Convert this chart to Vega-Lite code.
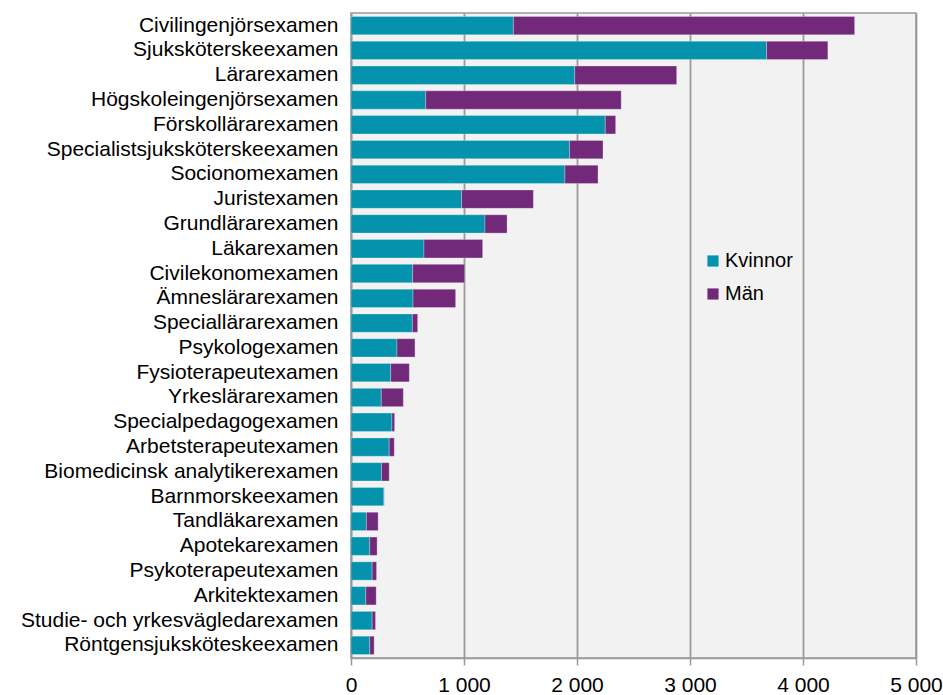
{
  "$schema": "https://vega.github.io/schema/vega-lite/v6.json",
  "autosize": {"type": "none"},
  "width": 565,
  "height": 645,
  "padding": {"left": 351, "top": 13, "right": 27, "bottom": 37},
  "background": "white",
  "config": {
    "font": "Liberation Sans",
    "view": {"fill": "#f2f2f2", "stroke": "#9a9a9a", "strokeWidth": 1.5}
  },
  "data": {
    "values": [
      {"examen": "Civilingenjörsexamen", "kon": "Kvinnor", "antal": 1437},
      {"examen": "Civilingenjörsexamen", "kon": "Män", "antal": 3020},
      {"examen": "Sjuksköterskeexamen", "kon": "Kvinnor", "antal": 3678},
      {"examen": "Sjuksköterskeexamen", "kon": "Män", "antal": 542},
      {"examen": "Lärarexamen", "kon": "Kvinnor", "antal": 1980},
      {"examen": "Lärarexamen", "kon": "Män", "antal": 902},
      {"examen": "Högskoleingenjörsexamen", "kon": "Kvinnor", "antal": 661},
      {"examen": "Högskoleingenjörsexamen", "kon": "Män", "antal": 1730},
      {"examen": "Förskollärarexamen", "kon": "Kvinnor", "antal": 2250},
      {"examen": "Förskollärarexamen", "kon": "Män", "antal": 92},
      {"examen": "Specialistsjuksköterskeexamen", "kon": "Kvinnor", "antal": 1934},
      {"examen": "Specialistsjuksköterskeexamen", "kon": "Män", "antal": 296},
      {"examen": "Socionomexamen", "kon": "Kvinnor", "antal": 1893},
      {"examen": "Socionomexamen", "kon": "Män", "antal": 293},
      {"examen": "Juristexamen", "kon": "Kvinnor", "antal": 979},
      {"examen": "Juristexamen", "kon": "Män", "antal": 635},
      {"examen": "Grundlärarexamen", "kon": "Kvinnor", "antal": 1186},
      {"examen": "Grundlärarexamen", "kon": "Män", "antal": 195},
      {"examen": "Läkarexamen", "kon": "Kvinnor", "antal": 646},
      {"examen": "Läkarexamen", "kon": "Män", "antal": 519},
      {"examen": "Civilekonomexamen", "kon": "Kvinnor", "antal": 546},
      {"examen": "Civilekonomexamen", "kon": "Män", "antal": 460},
      {"examen": "Ämneslärarexamen", "kon": "Kvinnor", "antal": 549},
      {"examen": "Ämneslärarexamen", "kon": "Män", "antal": 377},
      {"examen": "Speciallärarexamen", "kon": "Kvinnor", "antal": 543},
      {"examen": "Speciallärarexamen", "kon": "Män", "antal": 47},
      {"examen": "Psykologexamen", "kon": "Kvinnor", "antal": 407},
      {"examen": "Psykologexamen", "kon": "Män", "antal": 159},
      {"examen": "Fysioterapeutexamen", "kon": "Kvinnor", "antal": 351},
      {"examen": "Fysioterapeutexamen", "kon": "Män", "antal": 165},
      {"examen": "Yrkeslärarexamen", "kon": "Kvinnor", "antal": 268},
      {"examen": "Yrkeslärarexamen", "kon": "Män", "antal": 195},
      {"examen": "Specialpedagogexamen", "kon": "Kvinnor", "antal": 362},
      {"examen": "Specialpedagogexamen", "kon": "Män", "antal": 24},
      {"examen": "Arbetsterapeutexamen", "kon": "Kvinnor", "antal": 338},
      {"examen": "Arbetsterapeutexamen", "kon": "Män", "antal": 45},
      {"examen": "Biomedicinsk analytikerexamen", "kon": "Kvinnor", "antal": 270},
      {"examen": "Biomedicinsk analytikerexamen", "kon": "Män", "antal": 68},
      {"examen": "Barnmorskeexamen", "kon": "Kvinnor", "antal": 291},
      {"examen": "Barnmorskeexamen", "kon": "Män", "antal": 3},
      {"examen": "Tandläkarexamen", "kon": "Kvinnor", "antal": 136},
      {"examen": "Tandläkarexamen", "kon": "Män", "antal": 104},
      {"examen": "Apotekarexamen", "kon": "Kvinnor", "antal": 166},
      {"examen": "Apotekarexamen", "kon": "Män", "antal": 65},
      {"examen": "Psykoterapeutexamen", "kon": "Kvinnor", "antal": 187},
      {"examen": "Psykoterapeutexamen", "kon": "Män", "antal": 39},
      {"examen": "Arkitektexamen", "kon": "Kvinnor", "antal": 131},
      {"examen": "Arkitektexamen", "kon": "Män", "antal": 92},
      {"examen": "Studie- och yrkesvägledarexamen", "kon": "Kvinnor", "antal": 187},
      {"examen": "Studie- och yrkesvägledarexamen", "kon": "Män", "antal": 30},
      {"examen": "Röntgensjuksköteskeexamen", "kon": "Kvinnor", "antal": 166},
      {"examen": "Röntgensjuksköteskeexamen", "kon": "Män", "antal": 39}
    ]
  },
  "mark": {"type": "bar", "stroke": "#ffffff", "strokeOpacity": 0.35, "strokeWidth": 0.8},
  "encoding": {
    "y": {
      "field": "examen",
      "type": "nominal",
      "sort": null,
      "title": null,
      "scale": {"paddingInner": 0.26, "paddingOuter": 0.14},
      "axis": {
        "ticks": false,
        "domain": true,
        "domainColor": "#9a9a9a",
        "domainWidth": 1.5,
        "labelFontSize": 21,
        "labelColor": "#000000",
        "labelPadding": 13,
        "labelLimit": 400
      }
    },
    "x": {
      "field": "antal",
      "type": "quantitative",
      "stack": "zero",
      "title": null,
      "scale": {"domain": [0, 5000], "nice": false},
      "axis": {
        "values": [0, 1000, 2000, 3000, 4000, 5000],
        "labelExpr": "datum.value >= 1000 ? floor(datum.value / 1000) + ' 000' : '0'",
        "grid": true,
        "gridColor": "#9a9a9a",
        "gridWidth": 1.8,
        "domainColor": "#9a9a9a",
        "domainWidth": 1.5,
        "tickColor": "#9a9a9a",
        "tickWidth": 1.5,
        "tickSize": 7,
        "labelFontSize": 21,
        "labelColor": "#000000",
        "labelPadding": 9,
        "labelFlush": false
      }
    },
    "color": {
      "field": "kon",
      "type": "nominal",
      "scale": {"domain": ["Kvinnor", "Män"], "range": ["#0492ad", "#72297a"]},
      "legend": {
        "title": null,
        "orient": "none",
        "legendX": 352,
        "legendY": 238,
        "symbolType": "square",
        "symbolSize": 125,
        "symbolStrokeWidth": 0,
        "labelFontSize": 20,
        "labelColor": "#000000",
        "labelOffset": 2,
        "rowPadding": 13
      }
    },
    "order": {"field": "kon", "type": "nominal", "sort": "ascending"}
  }
}
